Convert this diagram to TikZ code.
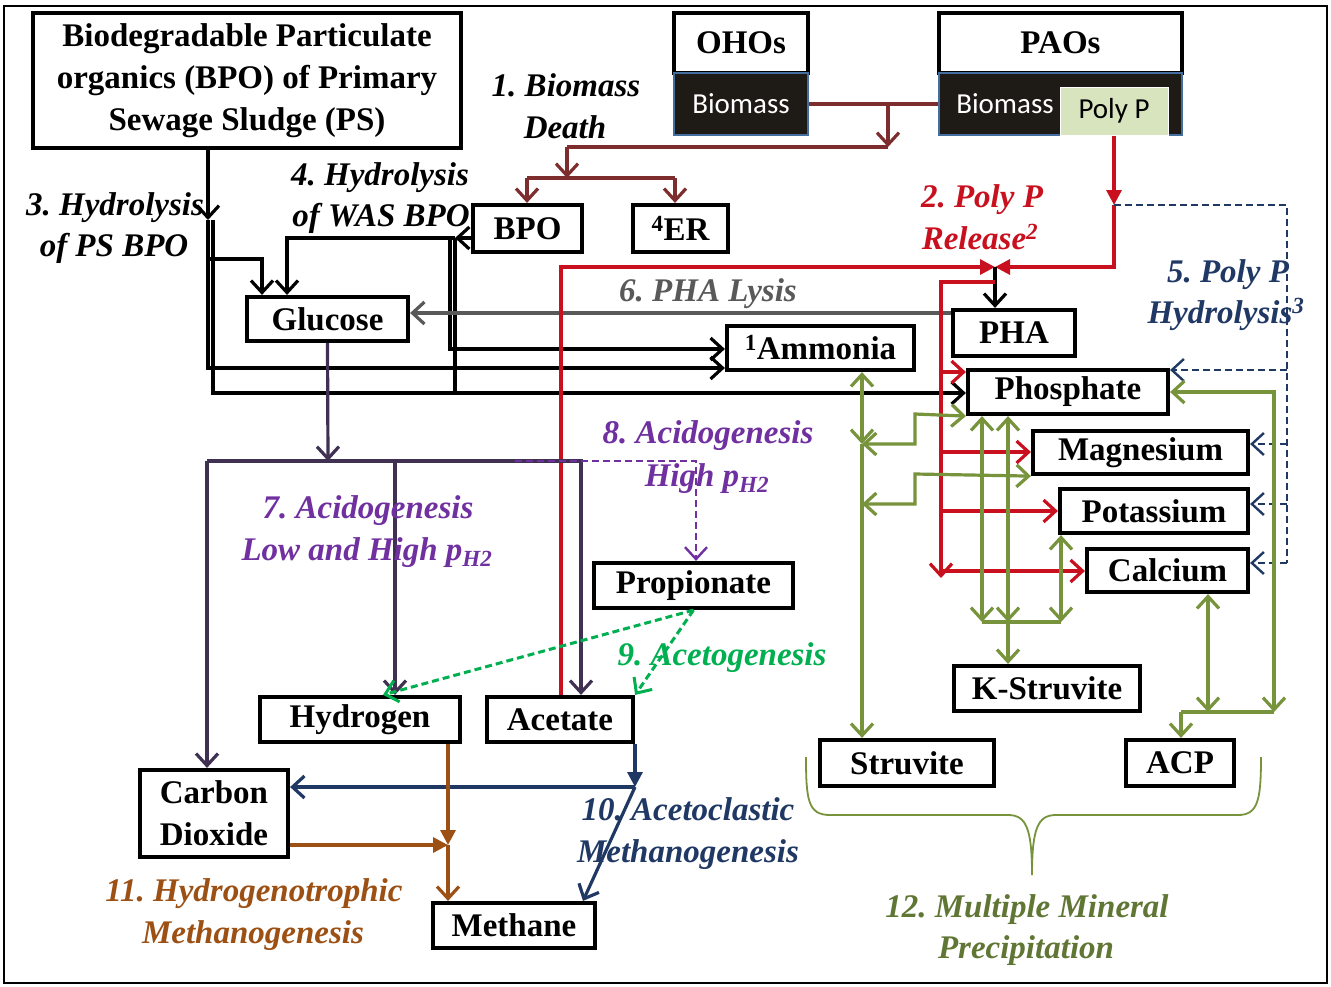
\documentclass[tikz,border=0pt]{standalone}
\usepackage{fontspec}
\setmainfont{Liberation Serif}
\newfontfamily\calib{Carlito}
\usetikzlibrary{arrows.meta,calc}
\definecolor{brn}{RGB}{125,45,45}
\definecolor{rd}{RGB}{200,16,30}
\definecolor{navy}{RGB}{31,56,100}
\definecolor{gry}{RGB}{89,89,89}
\definecolor{acid}{RGB}{64,49,82}
\definecolor{purp}{RGB}{112,48,160}
\definecolor{grn}{RGB}{0,176,80}
\definecolor{org}{RGB}{156,80,20}
\definecolor{olv}{RGB}{119,147,60}
\definecolor{olvtext}{RGB}{96,118,52}
\definecolor{bioblack}{RGB}{30,26,22}
\definecolor{bioedge}{RGB}{68,110,160}
\definecolor{polyfill}{RGB}{215,228,189}
\frenchspacing
\newcommand\bx[6]{\node[box,minimum width={#4-#2},minimum height={#5-#3}] (#1) at ({(#2+#4)/2},{(#3+#5)/2}) {#6};}
\tikzset{
  box/.style={draw=black, line width=4.2pt, fill=white, inner sep=0pt, align=center,
    font=\bfseries\fontsize{33}{42}\selectfont},
  bio/.style={draw=bioedge, line width=2.5pt, fill=bioblack, inner sep=0pt, text=white,
    font=\calib\fontsize{29}{30}\selectfont},
  lab/.style={font=\bfseries\itshape\fontsize{33}{40}\selectfont, anchor=base, inner sep=0pt},
  ln/.style={line width=3.2pt},
  ar/.style={ln,-{Straight Barb[length=12pt,width=22pt]}},
  ab/.style={ln,{Straight Barb[length=12pt,width=22pt]}-{Straight Barb[length=12pt,width=22pt]}},
  tri/.style={ln,-{Triangle[length=15pt,width=15pt]}},
  dsh/.style={dash pattern=on 7pt off 4pt, line width=2.4pt},
  dar/.style={-{Straight Barb[length=12pt,width=22pt]}},
}
\begin{document}
\begin{tikzpicture}[x=1pt,y=-1pt]
\useasboundingbox (0,0) rectangle (1331,986);
\fill[white] (0,0) rectangle (1331,986);
\draw[line width=1.5pt] (4,6) rectangle (1327,983);

% ---- boxes
\bx{ps}{33}{13}{461}{148}{Biodegradable Particulate\\organics (BPO) of Primary\\Sewage Sludge (PS)}
\bx{ohot}{674}{13}{808}{73}{OHOs}
\node[bio,minimum width=134,minimum height=62] (ohob) at (741,104) {Biomass};
\bx{paot}{939}{13}{1182}{73}{PAOs}
\node[bio,minimum width=243,minimum height=62] (paob) at (1060.5,104) {};
\node[font=\calib\fontsize{29}{30}\selectfont,text=white,inner sep=0pt] (paobt) at (1005,104) {Biomass};
\node[draw=white,line width=1pt,fill=polyfill,minimum width=108,minimum height=48,inner sep=0pt,
  font=\calib\fontsize{29}{30}\selectfont] (polyp) at (1114,111) {Poly P};
\bx{bpo}{473}{205}{582}{252}{BPO}
\bx{er}{633}{205}{728}{252}{\textsuperscript{4}ER}
\bx{glucose}{247}{297}{408}{341}{Glucose}
\bx{amm}{727}{326}{914}{370}{\textsuperscript{1}Ammonia}
\bx{pha}{953}{310}{1075}{356}{PHA}
\bx{phos}{968}{370}{1168}{414}{Phosphate}
\bx{mg}{1033}{431}{1248}{474}{Magnesium}
\bx{k}{1060}{489}{1248}{533}{Potassium}
\bx{ca}{1087}{549}{1248}{592}{Calcium}
\bx{prop}{594}{563}{793}{608}{Propionate}
\bx{hyd}{260}{697}{460}{742}{Hydrogen}
\bx{acetate}{487}{697}{633}{742}{Acetate}
\bx{co2}{140}{770}{288}{857}{Carbon\\Dioxide}
\bx{methane}{433}{903}{595}{948}{Methane}
\bx{ks}{954}{666}{1140}{711}{K-Struvite}
\bx{struv}{820}{740}{994}{786}{Struvite}
\bx{acp}{1126}{740}{1234}{786}{ACP}

% ---- 1. biomass death
\coordinate (b1) at (888,104);
\coordinate (b2) at (888,147);
\coordinate (b3) at (567,147);
\coordinate (b4) at (567,178);
\coordinate (b5) at (527,178);
\coordinate (b6) at (675,178);
\draw[brn,ln] (ohob.east) -- (paob.west);
\draw[brn,ar] (b1) -- (b2);
\draw[brn,ln] (b2) -- (b3);
\draw[brn,ar] (b3) -- (b4);
\draw[brn,ln] (b5) -- (b6);
\draw[brn,ar] (b5) -- (b5 |- bpo.north);
\draw[brn,ar] (b6) -- (b6 |- er.north);

% ---- 3./4. hydrolysis (black)
\coordinate (h0) at (208,220);
\coordinate (h1) at (213,220);
\draw[ar] (h0 |- ps.south) -- (h0);
\draw[ar] (h0) -- (208,259) -- (262,259) -- (262,0 |- glucose.north);
\draw[ar] (h0) -- (208,368) -- (amm.west |- 0,368);
\draw[ar] (h1) -- (213,393) -- (phos.west |- 0,393);
\coordinate (w0) at (455,238);
\draw[ar] (bpo.west |- w0) -- (w0);
\draw[ar] (w0) -- (287,238) -- (287,0 |- glucose.north);
\draw[ar] (450,238) -- (450,349) -- (amm.west |- 0,349);
\draw[ln] (455,238) -- (455,393);

% ---- 6. PHA lysis
\draw[gry,ar] (pha.west |- 0,313) -- (glucose.east |- 0,313);

% ---- 2. poly P release (red)
\coordinate (r0) at (1114,205);
\coordinate (r1) at (1114,267);
\coordinate (rj) at (995,267);
\coordinate (r2) at (561,267);
\coordinate (r3) at (995,282);
\coordinate (r4) at (941,282);
\coordinate (r5) at (941,578);
\draw[rd,tri] (polyp.south) -- (r0);
\draw[rd,tri] (r0) -- (r1) -- (rj);
\draw[rd,tri] (acetate.north -| r2) -- (r2) -- (rj);
\draw[ar] (rj) -- (rj |- pha.north);
\draw[rd,ar] (r3) -- (r4) -- (r5);
\draw[rd,ar] (941,372) -- (phos.west |- 0,372);
\draw[rd,ar] (941,452) -- (941,452 -| mg.west);
\draw[rd,ar] (941,511) -- (941,511 -| k.west);
\draw[rd,ar] (941,571) -- (941,571 -| ca.west);

% ---- 5. poly P hydrolysis (navy dashed)
\coordinate (d1) at (1287,205);
\coordinate (d2) at (1287,563);
\draw[navy,dsh] (r0) -- (d1) -- (d2);
\draw[navy,dsh,dar] (1287,370) -- (phos.east |- 0,370);
\draw[navy,dsh,dar] (1287,444) -- (mg.east |- 0,444);
\draw[navy,dsh,dar] (1287,504) -- (k.east |- 0,504);
\draw[navy,dsh,dar] (d2) -- (ca.east |- d2);

% ---- 7./8. acidogenesis
\coordinate (g0) at (328,461);
\draw[acid,ar] (glucose.south) -- (g0);
\draw[acid,ln] (207,461) -- (583,461);
\draw[acid,ar] (207,461) -- (207,0 |- co2.north);
\draw[acid,ar] (395,461) -- (395,0 |- hyd.north);
\draw[acid,ar] (581,461) -- (581,0 |- acetate.north);
\draw[purp,dsh,dar] (515,461) -- (696,461) -- (696,0 |- prop.north);

% ---- 9. acetogenesis
\draw[grn,dsh,dar,line width=3pt] (prop.south) -- (383,0 |- hyd.north);
\draw[grn,dsh,dar,line width=3pt] (prop.south) -- (acetate.north east);

% ---- 10. acetoclastic
\coordinate (n0) at (635,787);
\draw[navy,tri] (n0 |- acetate.south) -- (n0);
\draw[navy,ar] (n0) -- (co2.east |- n0);
\draw[navy,ar] (n0) -- (583,0 |- methane.north);

% ---- 11. hydrogenotrophic
\coordinate (o0) at (448,845);
\draw[org,tri] (o0 |- hyd.south) -- (o0);
\draw[org,ar] (o0) -- (o0 |- methane.north);
\draw[org,tri] (co2.east |- o0) -- (o0);

% ---- 12. minerals (olive)
\coordinate (m0) at (862,444);
\coordinate (m1) at (862,504);
\draw[olv,ab] (m0 |- amm.south) -- (m0);
\draw[olv,ar] (m0) -- (m0 |- struv.north);
\draw[olv,ab] (m0) -- (915,444) -- (915,414) -- (phos.south west);
\draw[olv,ab] (m1) -- (915,504) -- (915,474) -- (mg.south west);
\coordinate (k0) at (1008,622);
\draw[olv,ab] (982,0 |- phos.south) -- (982,622);
\draw[olv,ab] (1008,0 |- phos.south) -- (k0);
\draw[olv,ab] (1061,0 |- k.south) -- (1061,622);
\draw[olv,ln] (982,622) -- (1061,622);
\draw[olv,ar] (k0) -- (k0 |- ks.north);
\coordinate (a0) at (1274,712);
\coordinate (a1) at (1181,712);
\draw[olv,ab] (phos.east) -- (1274,0 |- phos.east) -- (a0);
\draw[olv,ln] (a0) -- (a1);
\draw[olv,ar] (a1) -- (a1 |- acp.north);
\draw[olv,ab] (1208,0 |- ca.south) -- (1208,712);

% brace
\draw[olv,line width=1.8pt] (806,757) .. controls (806,800) and (808,815) .. (830,815)
  -- (1008,815) .. controls (1026,815) and (1032,828) .. (1032,875)
  .. controls (1032,828) and (1038,815) .. (1056,815)
  -- (1238,815) .. controls (1258,815) and (1261,800) .. (1261,757);

% ---- labels
\node[lab] (l1a) at (566,96) {1. Biomass};
\node[lab] (l1b) at (565,138) {Death};
\node[lab,text=rd] (l2a) at (982,207) {2. Poly P};
\node[lab,text=rd] (l2b) at (980,249) {Release\textsuperscript{2}};
\node[lab] (l3a) at (115,215) {3. Hydrolysis};
\node[lab] (l3b) at (114,256) {of PS BPO};
\node[lab] (l4a) at (380,185) {4. Hydrolysis};
\node[lab] (l4b) at (381,226) {of WAS BPO};
\node[lab,text=navy] (l5a) at (1228,282) {5. Poly P};
\node[lab,text=navy] (l5b) at (1226,323) {Hydrolysis\textsuperscript{3}};
\node[lab,text=gry] (l6) at (708,301) {6. PHA Lysis};
\node[lab,text=purp] (l7a) at (368,518) {7. Acidogenesis};
\node[lab,text=purp] (l7b) at (367,560) {Low and High p\textsubscript{H2}};
\node[lab,text=purp] (l8a) at (708,443) {8. Acidogenesis};
\node[lab,text=purp] (l8b) at (707,486) {High p\textsubscript{H2}};
\node[lab,text=grn] (l9) at (722,665) {9. Acetogenesis};
\node[lab,text=navy] (l10a) at (688,820) {10. Acetoclastic};
\node[lab,text=navy] (l10b) at (688,862) {Methanogenesis};
\node[lab,text=org] (l11a) at (254,901) {11. Hydrogenotrophic};
\node[lab,text=org] (l11b) at (253,943) {Methanogenesis};
\node[lab,text=olvtext] (l12a) at (1027,917) {12. Multiple Mineral};
\node[lab,text=olvtext] (l12b) at (1026,958) {Precipitation};
\end{tikzpicture}
\end{document}
